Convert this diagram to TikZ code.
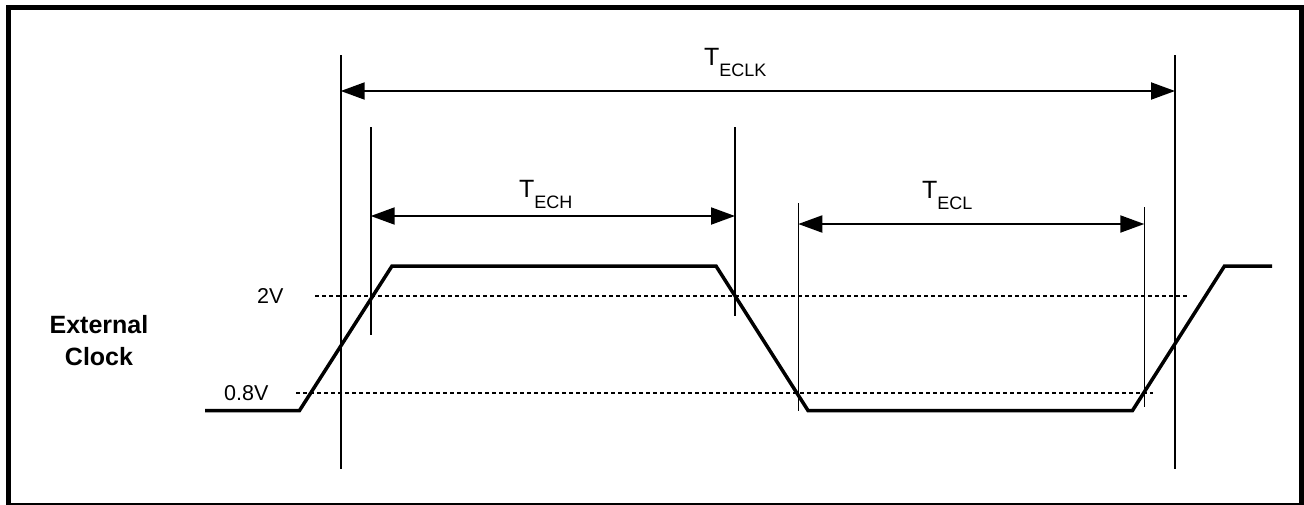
\documentclass[tikz,border=0pt]{standalone}
\usepackage{fontspec}
\setmainfont{Liberation Sans}
\usetikzlibrary{arrows.meta}
\begin{document}
\begin{tikzpicture}[x=1pt,y=-1pt,
  frame/.style={line width=5.5pt},
  marker/.style={line width=1.6pt},
  dim/.style={line width=2pt,{Triangle[length=24pt,width=17pt]}-{Triangle[length=24pt,width=17pt]}},
  level/.style={line width=1.4pt,dash pattern=on 4pt off 3pt},
  wave/.style={line width=3.5pt,line join=miter},
  tlabel/.style={anchor=base west,inner sep=0pt,font=\fontsize{25}{25}\selectfont},
  vlabel/.style={anchor=base west,inner sep=0pt,font=\fontsize{21.5}{22}\selectfont},
  signame/.style={anchor=base,inner sep=0pt,align=center,font=\fontsize{25}{32}\selectfont\bfseries}]
\useasboundingbox (0,0) rectangle (1304,504);
\draw[frame] (8.5,7.5) rectangle (1301.5,505.5);

% vertical marker lines
\coordinate (k1t) at (340.7,55);  \coordinate (k1b) at (340.7,469);
\coordinate (k2t) at (1175,55);   \coordinate (k2b) at (1175,469);
\coordinate (h1t) at (370.7,127); \coordinate (h1b) at (370.7,335);
\coordinate (h2t) at (735,127);   \coordinate (h2b) at (735,316);
\coordinate (l1t) at (798.3,203); \coordinate (l1b) at (798.3,411);
\coordinate (l2t) at (1144.3,207);\coordinate (l2b) at (1144.3,407);
\foreach \a in {k1,k2,h1,h2,l1,l2}{\draw[marker] (\a t) -- (\a b);}

% dimension arrows
\coordinate (k1a) at (340.7,91);  \coordinate (k2a) at (1175,91);
\coordinate (h1a) at (370.7,216); \coordinate (h2a) at (735,216);
\coordinate (l1a) at (798.3,224); \coordinate (l2a) at (1144.3,224);
\draw[dim] (k1a) -- (k2a);
\draw[dim] (h1a) -- (h2a);
\draw[dim] (l1a) -- (l2a);

% labels
\node[tlabel] (tclk) at (704,65) {T\raisebox{-11pt}{\fontsize{18}{18}\selectfont ECLK}};
\node[tlabel] (tch) at (519,197) {T\raisebox{-11pt}{\fontsize{18}{18}\selectfont ECH}};
\node[tlabel] (tcl) at (922,198) {T\raisebox{-11pt}{\fontsize{18}{18}\selectfont ECL}};

% threshold levels
\coordinate (v2a) at (315,296); \coordinate (v2b) at (1188,296);
\coordinate (v8a) at (296,393); \coordinate (v8b) at (1153,393);
\draw[level] (v2a) -- (v2b);
\draw[level] (v8a) -- (v8b);
\node[vlabel] (l2v) at (257,303) {2V};
\node[vlabel] (l08v) at (224,400) {0.8V};

% waveform
\coordinate (w0) at (205,410.5); \coordinate (w1) at (299.5,410.5);
\coordinate (w2) at (392,266);   \coordinate (w3) at (716,266);
\coordinate (w4) at (808,410.5); \coordinate (w5) at (1132.5,410.5);
\coordinate (w6) at (1224.5,266);\coordinate (w7) at (1272,266);
\draw[wave] (w0) -- (w1) -- (w2) -- (w3) -- (w4) -- (w5) -- (w6) -- (w7);

\node[signame] (ext) at (99,365) {External\\Clock};
\end{tikzpicture}
\end{document}
